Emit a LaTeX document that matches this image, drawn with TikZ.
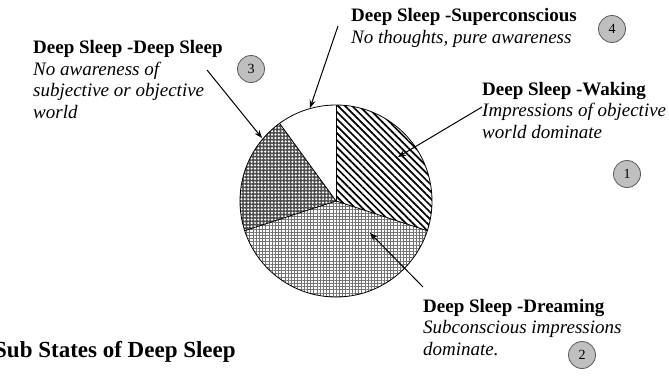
\documentclass[tikz,border=0pt]{standalone}
\usepackage{fontspec}
\setmainfont{Liberation Serif}
\usetikzlibrary{arrows.meta, patterns.meta}

\begin{document}
\begin{tikzpicture}[x=1pt, y=1pt, >={Stealth[length=8pt, width=6pt]},
    lbl/.style={anchor=base west, align=left, inner sep=0pt,
                font=\fontsize{19}{21.5}\selectfont},
    numdisc/.style={circle, draw=black!65, line width=0.8pt, fill=black!25,
                    minimum size=27pt, inner sep=0pt,
                    font=\fontsize{14}{14}\selectfont},
    pointer/.style={->, line width=1pt}]
  \useasboundingbox (0,0) rectangle (669,376);
  \def\pierad{96}
  \coordinate (c) at (336,175);

  % Slices, clockwise from the top
  \path[pattern={Lines[angle=-45, distance=5pt, line width=1.7pt]}]
    (c) -- ++(90:\pierad) arc[start angle=90, end angle=-18, radius=\pierad] -- cycle;
  \path[fill=black!20, pattern={Hatch[angle=0, distance=3.2pt, line width=0.6pt]},
        pattern color=black!55]
    (c) -- ++(-18:\pierad) arc[start angle=-18, end angle=-162, radius=\pierad] -- cycle;
  \fill[black!70] (c) -- ++(-162:\pierad) arc[start angle=-162, end angle=-234, radius=\pierad] -- cycle;
  \path[pattern={Dots[radius=1.2pt, distance=3.4pt]}, pattern color=white]
    (c) -- ++(-162:\pierad) arc[start angle=-162, end angle=-234, radius=\pierad] -- cycle;
  \draw[line width=0.8pt] (c) circle[radius=\pierad];
  \foreach \a in {90, -18, -162, -234}
    \draw[line width=0.8pt] (c) -- ++(\a:\pierad);

  % Labels (placed by the baseline of their last line)
  \node[lbl] (super) at (351,333) {\textbf{Deep Sleep -Superconscious}\\
    \textit{No thoughts, pure awareness}};
  \node[lbl] (deep) at (33,258) {\textbf{Deep Sleep -Deep Sleep}\\
    \textit{No awareness of}\\\textit{subjective or objective}\\\textit{world}};
  \node[lbl] (waking) at (482,238) {\textbf{Deep Sleep -Waking}\\
    \textit{Impressions of objective}\\\textit{world dominate}};
  \node[lbl] (dream) at (423,21) {\textbf{Deep Sleep -Dreaming}\\
    \textit{Subconscious impressions}\\\textit{dominate.}};
  \node[anchor=base west, inner sep=0pt, font=\fontsize{23}{24}\selectfont\bfseries]
    (title) at (-6,19) {Sub States of Deep Sleep};

  % Numbered discs
  \foreach \n/\x/\y in {1/627/202, 2/582/21, 3/251/307, 4/612/347}
    \node[numdisc] (n\n) at (\x,\y) {\n};

  % Pointers into the slices
  \coordinate (superT) at (338,350);
  \coordinate (superH) at (310,268);
  \coordinate (deepT) at (207,306);
  \coordinate (deepH) at (262,238);
  \coordinate (wakingT) at (482,269);
  \coordinate (wakingH) at (398,219);
  \coordinate (dreamT) at (423,89);
  \coordinate (dreamH) at (370,143);
  \draw[pointer] (superT) -- (superH);
  \draw[pointer] (deepT) -- (deepH);
  \draw[pointer] (wakingT) -- (wakingH);
  \draw[pointer] (dreamT) -- (dreamH);
\end{tikzpicture}
\end{document}
